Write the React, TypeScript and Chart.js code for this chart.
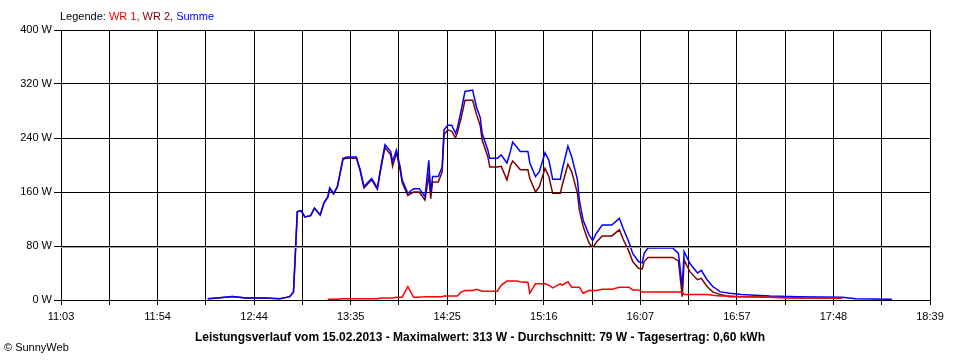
import React, { useEffect, useRef } from "react";
import { Chart, registerables } from "chart.js";

Chart.register(...registerables);

// ---- data ----
const times = [
  "12:20", "12:25", "12:33", "12:40", "12:50", "12:58", "13:03", "13:05", "13:06", "13:07",
  "13:09", "13:11", "13:14", "13:16", "13:19", "13:21", "13:23", "13:24", "13:26", "13:28",
  "13:31", "13:33", "13:38", "13:40", "13:42", "13:46", "13:49", "13:51", "13:53", "13:56",
  "13:57", "13:59", "14:01", "14:02", "14:05", "14:08", "14:11", "14:14", "14:16", "14:17",
  "14:18", "14:21", "14:23", "14:24", "14:26", "14:28", "14:30", "14:31", "14:33", "14:35",
  "14:39", "14:41", "14:43", "14:44", "14:47", "14:48", "14:52", "14:54", "14:57", "14:59",
  "15:00", "15:02", "15:04", "15:08", "15:09", "15:12", "15:14", "15:17", "15:19", "15:21",
  "15:25", "15:26", "15:29", "15:31", "15:34", "15:35", "15:37", "15:40", "15:42", "15:44",
  "15:47", "15:52", "15:56", "15:58", "16:01", "16:03", "16:06", "16:08", "16:09", "16:11",
  "16:24", "16:27", "16:29", "16:30", "16:33", "16:37", "16:39", "16:42", "16:45", "16:49",
  "16:54", "17:00", "17:15", "17:30", "17:53", "18:00", "18:19",
];

const summe = [
  2, 3, 5, 3, 3, 2, 5, 12, 70, 131,
  132, 123, 125, 136, 126, 144, 153, 166, 158, 168,
  210, 212, 212, 193, 168, 180, 166, 200, 230, 220,
  205, 222, 197, 178, 158, 165, 165, 153, 207, 160,
  183, 183, 197, 252, 259, 259, 247, 255, 281, 309,
  311, 286, 270, 247, 222, 210, 210, 215, 203, 222,
  234, 227, 220, 220, 203, 183, 190, 218, 207, 179,
  179, 193, 228, 212, 178, 148, 118, 97, 88, 99,
  111, 111, 121, 106, 86, 69, 57, 55, 69, 77,
  77, 69, 20, 72, 54, 40, 44, 30, 20, 12,
  10, 8, 6, 5, 4, 2, 1,
];

const wr2 = [
  2, 3, 5, 3, 3, 2, 5, 12, 70, 131,
  132, 123, 125, 136, 126, 144, 152, 165, 157, 167,
  209, 210, 210, 191, 166, 178, 164, 197, 226, 215,
  198, 218, 192, 174, 155, 160, 160, 148, 185, 150,
  175, 175, 190, 245, 252, 250, 240, 248, 270, 296,
  296, 275, 258, 237, 212, 197, 197, 198, 178, 200,
  206, 200, 193, 193, 180, 160, 168, 195, 183, 158,
  158, 170, 201, 190, 158, 133, 109, 85, 77, 86,
  95, 95, 104, 90, 72, 57, 47, 46, 57, 63,
  63, 58, 5, 59, 42, 30, 32, 20, 12, 8,
  5, 5, 4, 3, 3, null, null,
];

const wr1 = [
  null, null, null, null, null, null, null, null, null, null,
  null, null, null, null, null, null, 1, 1, 1, 1,
  2, 2, 2, 2, 2, 2, 2, 3, 3, 3,
  3, 4, 4, 4, 20, 4, 4, 5, 5, 5,
  5, 5, 5, 6, 6, 6, 6, 6, 12, 14,
  14, 16, 14, 13, 13, 13, 13, 22, 28, 28,
  28, 28, 27, 26, 10, 24, 24, 24, 22, 18,
  24, 22, 27, 19, 19, 19, 10, 14, 14, 14,
  16, 16, 19, 19, 19, 15, 15, 12, 12, 12,
  12, 12, 12, 8, 8, 8, 8, 8, 7, 6,
  6, 5, 4, 3, 3, null, null,
];

const xTickLabels = ["11:03", "11:54", "12:44", "13:35", "14:25", "15:16", "16:07", "16:57", "17:48", "18:39"];
const yTickValues = [0, 80, 160, 240, 320, 400];
const legendLabels = ["WR 1", "WR 2", "Summe"];
const legendPrefix = "Legende: ";
const footerText = "Leistungsverlauf vom 15.02.2013 - Maximalwert: 313 W - Durchschnitt: 79 W - Tagesertrag: 0,60 kWh";
const copyrightText = "\u00A9 SunnyWeb";

const COLORS = { wr1: "#ff0000", wr2: "#800000", summe: "#0000ff" };

const toMin = (s: string) => {
  const [h, m] = s.split(":").map(Number);
  return h * 60 + m;
};

const points = (vals: (number | null)[]) =>
  times.map((t, i) => ({ x: toMin(t), y: vals[i] }));

const FONT = '"Liberation Sans", Arial, sans-serif';

export default function App() {
  const ref = useRef<HTMLCanvasElement | null>(null);

  useEffect(() => {
    if (!ref.current) return;
    const xMin = toMin(xTickLabels[0]);
    const xMax = toMin(xTickLabels[xTickLabels.length - 1]);
    const nInt = (xTickLabels.length - 1) * 2;

    const textPlugin = {
      id: "texts",
      afterDraw(chart: any) {
        const ctx = chart.ctx;
        const ys = chart.scales.y;
        ctx.save();
        // grey shadow line under the 80 W grid line
        const y80 = Math.round(ys.getPixelForValue(80)) + 1.5;
        ctx.strokeStyle = "#a0a0a0";
        ctx.lineWidth = 1;
        ctx.beginPath();
        ctx.moveTo(chart.chartArea.left, y80);
        ctx.lineTo(chart.chartArea.right, y80);
        ctx.stroke();

        ctx.textBaseline = "middle";
        ctx.textAlign = "left";
        ctx.font = "11px " + FONT;
        const segs: [string, string][] = [
          [legendPrefix, "#000000"],
          [legendLabels[0] + ", ", COLORS.wr1],
          [legendLabels[1] + ", ", COLORS.wr2],
          [legendLabels[2], COLORS.summe],
        ];
        let x = 60;
        for (const [t, c] of segs) {
          ctx.fillStyle = c;
          ctx.fillText(t, x, 17);
          x += ctx.measureText(t).width;
        }
        ctx.fillStyle = "#000000";
        ctx.font = "bold 12px " + FONT;
        ctx.textAlign = "center";
        ctx.fillText(footerText, 480, 338);
        ctx.font = "11px " + FONT;
        ctx.textAlign = "left";
        ctx.fillText(copyrightText, 4, 348);
        ctx.restore();
      },
    };

    const chart = new Chart(ref.current, {
      type: "line",
      data: {
        datasets: [
          { label: legendLabels[0], data: points(wr1), borderColor: COLORS.wr1, borderWidth: 1.5, pointRadius: 0, tension: 0, spanGaps: false },
          { label: legendLabels[2], data: points(summe), borderColor: COLORS.summe, borderWidth: 1.5, pointRadius: 0, tension: 0, spanGaps: false },
          { label: legendLabels[1], data: points(wr2), borderColor: COLORS.wr2, borderWidth: 1.5, pointRadius: 0, tension: 0, spanGaps: false },
        ],
      },
      options: {
        animation: false,
        responsive: false,
        layout: { padding: { left: 0, right: 30, top: 30, bottom: 0 } },
        plugins: { legend: { display: false }, tooltip: { enabled: false }, title: { display: false } },
        scales: {
          x: {
            type: "linear",
            min: xMin,
            max: xMax,
            afterBuildTicks: (s: any) => {
              const arr = [];
              for (let i = 0; i <= nInt; i++) arr.push({ value: xMin + ((xMax - xMin) * i) / nInt });
              s.ticks = arr;
            },
            afterFit: (s: any) => {
              s.height = 60;
            },
            ticks: {
              autoSkip: false,
              maxRotation: 0,
              padding: 5,
              color: "#000000",
              font: { family: FONT, size: 11 },
              callback: (_v: any, i: number) => (i % 2 === 0 ? xTickLabels[i / 2] : ""),
            },
            grid: { color: "#000000", lineWidth: 1, tickLength: 5, drawTicks: true },
            border: { color: "#000000", width: 1 },
          },
          y: {
            min: 0,
            max: 400,
            afterBuildTicks: (s: any) => {
              s.ticks = yTickValues.map((v) => ({ value: v }));
            },
            afterFit: (s: any) => {
              s.width = 61;
            },
            ticks: {
              padding: 2,
              color: "#000000",
              font: { family: FONT, size: 11 },
              callback: (v: any) => v + " W",
            },
            grid: { color: "#000000", lineWidth: 1, tickLength: 7, drawTicks: true },
            border: { color: "#000000", width: 1 },
          },
        },
      },
      plugins: [textPlugin],
    } as any);
    return () => chart.destroy();
  }, []);

  return (
    <div style={{ position: "fixed", left: 0, top: 0, width: 960, height: 360, background: "#ffffff" }}>
      <canvas ref={ref} width={960} height={360} />
    </div>
  );
}
